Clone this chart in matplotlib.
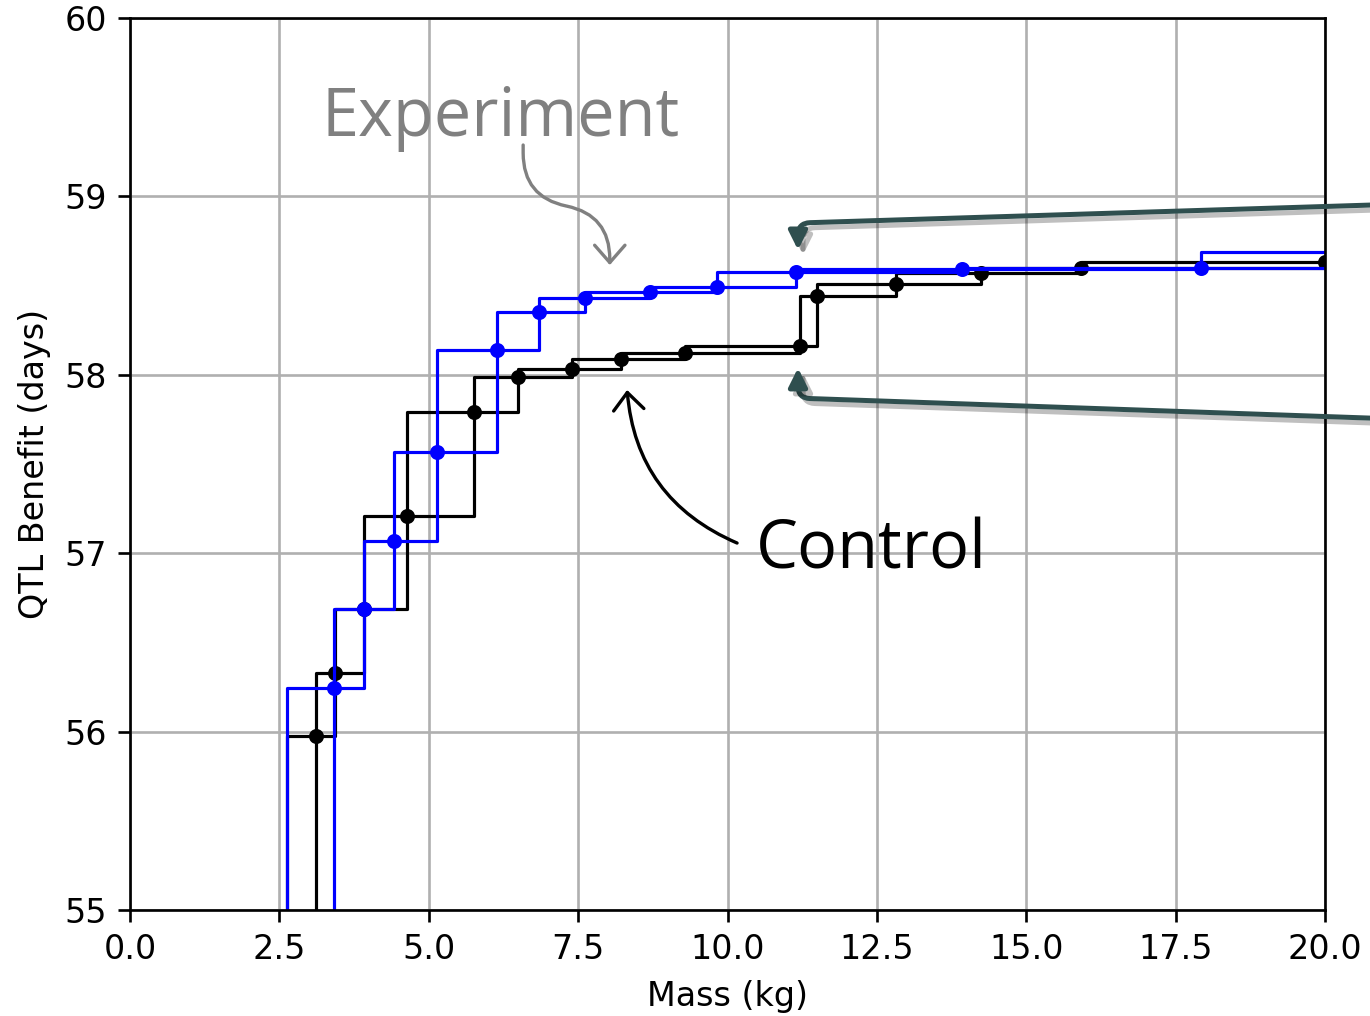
import matplotlib
matplotlib.use("Agg")
import matplotlib.pyplot as plt
import matplotlib.patheffects as pe

# pareto points (first point sits below the y range)
control_mass = [2.62, 3.11, 3.43, 3.92, 4.64, 5.76, 6.49, 7.40, 8.22, 9.29,
                11.22, 11.49, 12.82, 14.24, 15.92, 20.0]
control_qtl = [54.0, 55.975, 56.33, 56.69, 57.21, 57.79, 57.99, 58.03, 58.09, 58.12,
               58.16, 58.44, 58.51, 58.57, 58.60, 58.63]

experiment_mass = [2.62, 3.41, 3.92, 4.42, 5.14, 6.14, 6.85, 7.62, 8.70, 9.82,
                   11.15, 13.92, 17.92, 21.0]
experiment_qtl = [54.0, 56.245, 56.69, 57.07, 57.57, 58.14, 58.35, 58.43, 58.465, 58.49,
                  58.575, 58.595, 58.60, 58.69]

DPI = 240
fig = plt.figure(figsize=(1370 / DPI, 1016 / DPI), dpi=DPI)
ax = fig.add_axes([130 / 1370, 106 / 1016, 1195 / 1370, 892 / 1016])

for where in ("pre", "post"):
    ax.step(control_mass, control_qtl, where=where, color="black", lw=0.95)
ax.plot(control_mass, control_qtl, "o", color="black", ms=3.5)

for where in ("pre", "post"):
    ax.step(experiment_mass, experiment_qtl, where=where, color="blue", lw=0.95)
ax.plot(experiment_mass, experiment_qtl, "o", color="blue", ms=3.5)

ax.set_xlim(0, 20)
ax.set_ylim(55, 60)
ax.grid(True)
ax.set_xlabel("Mass (kg)")
ax.set_ylabel("QTL Benefit (days)")

# labels with arrows
ax.text(3.21, 59.34, "Experiment", color="gray", fontsize=20, family="Open Sans")
ax.annotate("", xy=(8.03, 58.615), xytext=(6.58, 59.288),
            arrowprops=dict(arrowstyle="->,head_length=0.4,head_width=0.35",
                            color="gray", lw=1.0, mutation_scale=13,
                            shrinkA=0, shrinkB=0,
                            connectionstyle="arc,angleA=-90,angleB=90,armA=52,armB=50,rad=44"))

ax.text(10.48, 56.917, "Control", color="black", fontsize=20, family="Open Sans")
ax.annotate("", xy=(8.32, 57.915), xytext=(10.16, 57.057),
            arrowprops=dict(arrowstyle="->,head_length=0.4,head_width=0.35",
                            color="black", lw=1.0, mutation_scale=13,
                            shrinkA=0, shrinkB=0,
                            connectionstyle="arc3,rad=-0.3"))

shadow = [pe.SimpleLineShadow(offset=(1.5, -1.5), alpha=0.25), pe.Normal()]
top = ax.annotate("", xy=(11.18, 58.70), xytext=(23, 58.975),
                  arrowprops=dict(arrowstyle="-|>,head_length=0.4,head_width=0.2",
                                  color="darkslategray", lw=1.5, mutation_scale=11.5,
                                  shrinkA=0, shrinkB=0,
                                  connectionstyle="angle,angleA=1.8,angleB=90,rad=12"))
top.arrow_patch.set_path_effects(shadow)
bottom = ax.annotate("", xy=(11.18, 58.038), xytext=(23, 57.731),
                     arrowprops=dict(arrowstyle="-|>,head_length=0.4,head_width=0.2",
                                     color="darkslategray", lw=1.5, mutation_scale=11.5,
                                     shrinkA=0, shrinkB=0,
                                     connectionstyle="angle,angleA=-2,angleB=90,rad=12"))
bottom.arrow_patch.set_path_effects(shadow)

fig.savefig("out.png", dpi=DPI)
